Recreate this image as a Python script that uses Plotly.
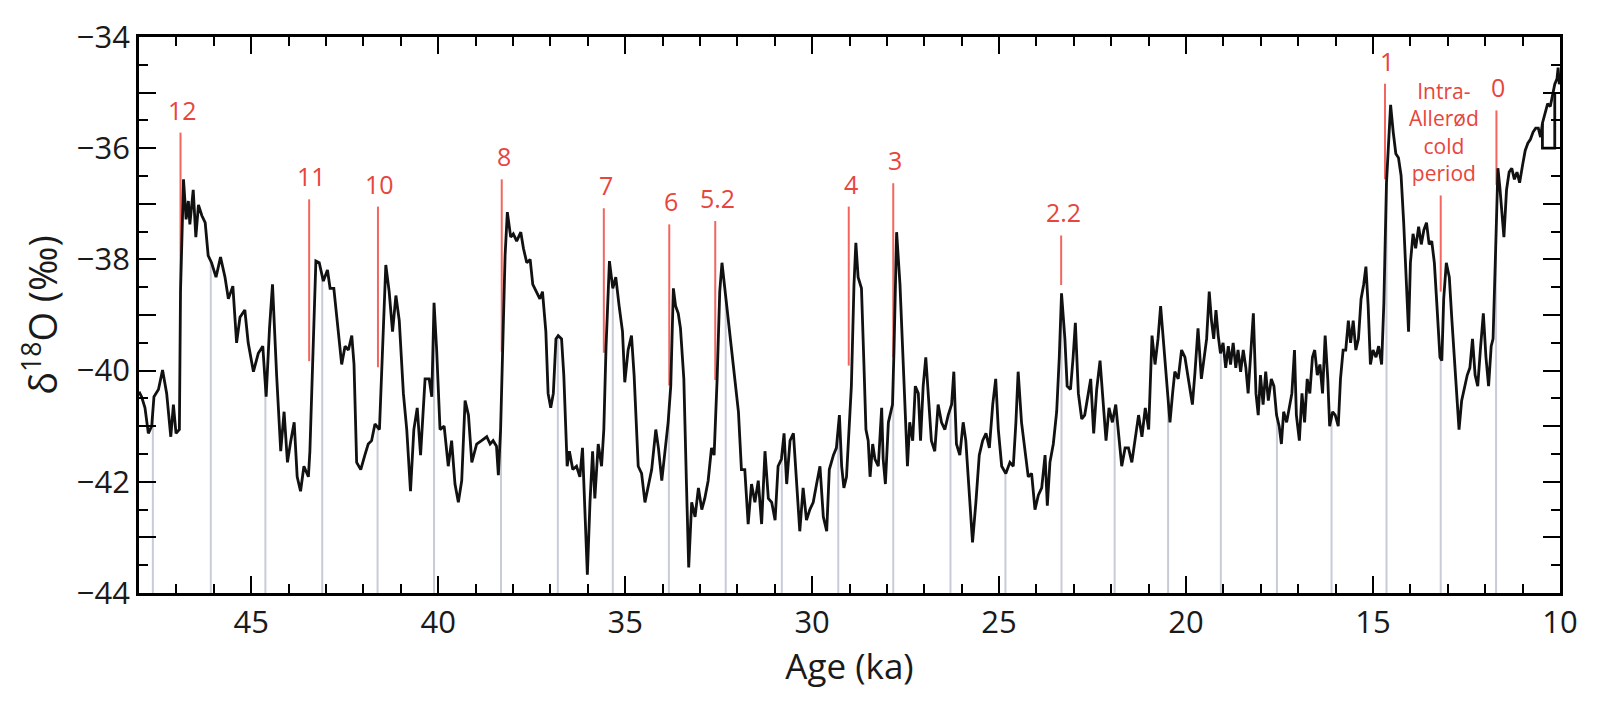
import numpy as np
import plotly.graph_objects as go

# delta 18O record, ages in ka b2k
age = [
    48.00, 47.93, 47.84, 47.75, 47.66, 47.60, 47.48, 47.37, 47.26, 47.15, 47.08, 47.01, 46.92, 46.89,
    46.81, 46.74, 46.68, 46.64, 46.55, 46.48, 46.41, 46.32, 46.23, 46.15, 46.06, 45.94, 45.82, 45.70,
    45.61, 45.49, 45.39, 45.30, 45.17, 45.08, 44.94, 44.81, 44.69, 44.60, 44.51, 44.43, 44.32, 44.21,
    44.12, 44.03, 43.94, 43.85, 43.77, 43.68, 43.59, 43.47, 43.43, 43.36, 43.27, 43.18, 43.07, 42.96,
    42.89, 42.79, 42.67, 42.58, 42.49, 42.40, 42.31, 42.25, 42.18, 42.07, 41.96, 41.87, 41.78, 41.69,
    41.57, 41.47, 41.40, 41.31, 41.22, 41.13, 41.04, 40.93, 40.84, 40.74, 40.65, 40.56, 40.47, 40.35,
    40.24, 40.17, 40.11, 40.04, 39.95, 39.84, 39.73, 39.64, 39.55, 39.46, 39.37, 39.28, 39.19, 39.10,
    38.97, 38.84, 38.70, 38.61, 38.53, 38.44, 38.39, 38.33, 38.28, 38.21, 38.15, 38.06, 37.99, 37.90,
    37.79, 37.72, 37.63, 37.54, 37.47, 37.37, 37.28, 37.21, 37.12, 37.06, 36.99, 36.92, 36.85, 36.79,
    36.70, 36.64, 36.55, 36.49, 36.40, 36.30, 36.21, 36.14, 36.07, 36.01, 35.94, 35.87, 35.81, 35.72,
    35.63, 35.57, 35.51, 35.42, 35.33, 35.25, 35.16, 35.07, 35.01, 34.92, 34.83, 34.76, 34.65, 34.56,
    34.47, 34.38, 34.29, 34.18, 34.11, 34.02, 33.93, 33.85, 33.78, 33.71, 33.65, 33.58, 33.52, 33.43,
    33.36, 33.30, 33.22, 33.13, 33.04, 32.95, 32.87, 32.78, 32.69, 32.62, 32.54, 32.47, 32.41, 32.29,
    32.18, 32.06, 31.97, 31.89, 31.80, 31.71, 31.62, 31.53, 31.44, 31.35, 31.26, 31.17, 31.08, 30.99,
    30.91, 30.82, 30.75, 30.68, 30.59, 30.50, 30.41, 30.33, 30.24, 30.15, 30.06, 29.97, 29.88, 29.79,
    29.70, 29.61, 29.54, 29.43, 29.35, 29.27, 29.21, 29.15, 29.08, 29.01, 28.95, 28.88, 28.83, 28.77,
    28.68, 28.62, 28.56, 28.50, 28.45, 28.38, 28.32, 28.23, 28.14, 28.10, 28.04, 27.96, 27.90, 27.85,
    27.81, 27.74, 27.65, 27.56, 27.49, 27.45, 27.39, 27.31, 27.24, 27.16, 27.10, 27.03, 26.96, 26.88,
    26.81, 26.72, 26.63, 26.54, 26.45, 26.36, 26.27, 26.21, 26.14, 26.05, 25.96, 25.89, 25.80, 25.71,
    25.62, 25.53, 25.44, 25.35, 25.26, 25.17, 25.09, 25.02, 24.93, 24.82, 24.71, 24.62, 24.55, 24.49,
    24.40, 24.31, 24.22, 24.13, 24.04, 23.95, 23.86, 23.77, 23.71, 23.64, 23.55, 23.46, 23.39, 23.33,
    23.24, 23.18, 23.09, 23.02, 22.96, 22.88, 22.79, 22.71, 22.62, 22.55, 22.47, 22.39, 22.30, 22.23,
    22.14, 22.06, 21.97, 21.88, 21.81, 21.72, 21.63, 21.54, 21.45, 21.36, 21.27, 21.18, 21.09, 21.00,
    20.91, 20.83, 20.75, 20.68, 20.61, 20.52, 20.43, 20.36, 20.30, 20.21, 20.12, 20.03, 19.94, 19.83,
    19.76, 19.68, 19.59, 19.52, 19.45, 19.38, 19.32, 19.26, 19.20, 19.14, 19.08, 19.01, 18.94, 18.87,
    18.81, 18.74, 18.67, 18.61, 18.54, 18.47, 18.40, 18.34, 18.28, 18.20, 18.13, 18.07, 18.01, 17.94,
    17.87, 17.80, 17.72, 17.65, 17.58, 17.51, 17.45, 17.39, 17.31, 17.24, 17.17, 17.10, 17.05, 16.97,
    16.90, 16.83, 16.76, 16.69, 16.62, 16.56, 16.49, 16.42, 16.35, 16.28, 16.21, 16.16, 16.08, 16.01,
    15.93, 15.87, 15.80, 15.73, 15.66, 15.60, 15.53, 15.46, 15.39, 15.32, 15.25, 15.19, 15.13, 15.07,
    15.00, 14.92, 14.85, 14.77, 14.71, 14.64, 14.58, 14.53, 14.46, 14.39, 14.32, 14.25, 14.18, 14.11,
    14.05, 14.00, 13.93, 13.86, 13.78, 13.71, 13.64, 13.57, 13.50, 13.43, 13.36, 13.29, 13.21, 13.16,
    13.11, 13.04, 12.96, 12.89, 12.82, 12.75, 12.70, 12.63, 12.55, 12.48, 12.41, 12.34, 12.27, 12.20,
    12.13, 12.05, 11.98, 11.91, 11.84, 11.79, 11.72, 11.66, 11.61, 11.56, 11.50, 11.43, 11.36, 11.29,
    11.22, 11.15, 11.08, 11.00, 10.93, 10.86, 10.79, 10.72, 10.65, 10.58, 10.52, 10.47, 10.40, 10.33,
    10.26, 10.20, 10.14, 10.08, 10.05, 10.02, 10.00,
]
d18o = [
    -40.38, -40.47, -40.67, -41.13, -41.00, -40.47, -40.34, -39.99, -40.41, -41.19, -40.61, -41.13, -41.06, -38.58,
    -36.56, -37.28, -36.95, -37.37, -36.75, -37.60, -37.02, -37.21, -37.34, -37.93, -38.06, -38.32, -37.96, -38.32,
    -38.71, -38.48, -39.50, -39.04, -38.91, -39.50, -40.02, -39.69, -39.56, -40.47, -39.24, -38.45, -40.08, -41.45,
    -40.74, -41.65, -41.26, -40.93, -41.91, -42.17, -41.72, -41.91, -41.45, -39.76, -38.03, -38.06, -38.39, -38.19,
    -38.52, -38.52, -39.24, -39.89, -39.56, -39.63, -39.37, -39.89, -41.65, -41.78, -41.52, -41.32, -41.26, -40.96,
    -41.06, -39.50, -38.10, -38.58, -39.30, -38.65, -39.10, -40.41, -41.06, -42.17, -41.06, -40.67, -41.52, -40.15,
    -40.15, -40.47, -38.78, -39.63, -41.06, -41.00, -41.72, -41.26, -42.04, -42.37, -41.98, -40.54, -40.80, -41.65,
    -41.32, -41.26, -41.19, -41.32, -41.26, -41.36, -41.88, -41.06, -39.66, -37.93, -37.15, -37.60, -37.54, -37.67,
    -37.51, -37.80, -38.06, -38.00, -38.45, -38.58, -38.71, -38.58, -39.30, -40.41, -40.67, -40.41, -39.43, -39.37,
    -39.43, -40.08, -41.72, -41.45, -41.78, -41.72, -41.91, -41.39, -42.82, -43.67, -42.37, -41.45, -42.30, -41.32,
    -41.72, -41.06, -39.56, -38.03, -38.52, -38.32, -38.84, -39.30, -40.21, -39.63, -39.37, -40.08, -41.72, -41.85,
    -42.37, -42.04, -41.78, -41.06, -41.39, -41.98, -41.45, -40.93, -40.28, -38.52, -38.84, -38.97, -39.24, -40.15,
    -42.04, -43.54, -42.37, -42.63, -42.11, -42.50, -42.30, -41.98, -41.39, -41.52, -40.15, -38.58, -38.06, -38.78,
    -39.43, -40.15, -40.74, -41.78, -41.78, -42.76, -42.04, -42.37, -41.98, -42.76, -41.45, -42.30, -42.37, -42.69,
    -41.72, -41.59, -41.13, -42.04, -41.26, -41.13, -42.04, -42.89, -42.11, -42.69, -42.50, -42.37, -42.04, -41.72,
    -42.63, -42.89, -41.78, -41.52, -41.39, -40.80, -41.72, -42.11, -41.91, -40.93, -40.28, -38.45, -37.70, -38.32,
    -38.52, -39.76, -41.06, -41.26, -41.91, -41.32, -41.59, -41.72, -40.67, -41.59, -42.04, -40.93, -40.74, -40.61,
    -39.63, -37.51, -38.45, -40.08, -41.26, -41.72, -40.93, -41.26, -40.28, -40.41, -41.26, -40.28, -39.76, -40.54,
    -41.26, -41.45, -40.61, -40.93, -41.06, -40.80, -40.61, -40.02, -41.32, -41.52, -40.93, -41.26, -42.11, -43.09,
    -42.37, -41.52, -41.26, -41.13, -41.39, -40.61, -40.15, -41.06, -41.72, -41.85, -41.65, -41.72, -40.93, -40.02,
    -40.93, -41.39, -41.91, -41.85, -42.50, -42.24, -42.11, -41.52, -42.43, -41.65, -41.32, -40.74, -39.76, -38.61,
    -39.43, -40.28, -40.34, -39.76, -39.14, -40.41, -40.87, -40.80, -40.41, -40.15, -41.13, -40.34, -39.82, -40.41,
    -41.26, -40.67, -40.93, -40.61, -41.13, -41.72, -41.39, -41.39, -41.65, -41.19, -40.80, -41.19, -40.67, -41.06,
    -39.37, -39.89, -39.43, -38.84, -39.43, -40.34, -40.93, -40.41, -40.02, -40.15, -39.63, -39.76, -40.15, -40.61,
    -40.02, -39.24, -40.15, -39.76, -39.43, -38.58, -39.10, -39.43, -38.91, -39.37, -39.69, -39.50, -39.95, -39.56,
    -39.89, -39.50, -39.95, -39.63, -40.02, -39.63, -39.95, -40.41, -39.76, -38.97, -40.41, -40.80, -40.08, -40.61,
    -40.02, -40.54, -40.15, -40.28, -40.80, -41.00, -41.32, -40.74, -40.93, -40.67, -40.41, -39.63, -40.80, -41.26,
    -40.41, -40.93, -40.15, -40.41, -39.76, -39.63, -40.08, -39.89, -40.41, -39.37, -40.15, -41.00, -40.74, -40.80,
    -41.00, -40.15, -39.63, -39.63, -39.10, -39.50, -39.10, -39.63, -39.43, -38.71, -38.45, -38.13, -38.84, -39.89,
    -39.63, -39.76, -39.56, -39.89, -38.78, -36.62, -35.71, -35.22, -35.71, -36.10, -36.17, -36.49, -37.34, -38.32,
    -39.30, -38.06, -37.54, -37.80, -37.41, -37.73, -37.47, -37.34, -37.73, -37.67, -38.06, -38.84, -39.76, -39.82,
    -38.71, -38.06, -38.32, -39.10, -39.76, -40.41, -41.06, -40.54, -40.28, -40.08, -39.95, -39.43, -40.08, -40.28,
    -39.63, -38.97, -39.76, -40.28, -39.56, -39.43, -37.80, -36.36, -36.69, -37.08, -37.60, -36.75, -36.43, -36.36,
    -36.56, -36.43, -36.62, -36.30, -36.04, -35.91, -35.84, -35.71, -35.64, -35.64, -35.80, -35.55, -35.35, -35.20,
    -35.25, -35.05, -34.85, -34.75, -34.55, -34.85, -34.75,
]

# short flat piece at the young end of the record
tail_age = [10.47, 10.47, 10.14, 10.14]
tail_d18o = [-35.55, -36.0, -36.0, -35.0]

# ~1470-yr spaced markers (grey)
cycle_age = [47.63, 46.08, 44.62, 43.10, 41.62, 40.11, 38.32, 36.80, 35.33, 33.83, 32.31, 30.81, 29.30,
             27.83, 26.30, 24.83, 23.33, 21.91, 20.48, 19.07, 17.57, 16.11, 14.64, 13.19, 11.71]

# Greenland interstadial onsets (red)
event_label = ["12", "11", "10", "8", "7", "6", "5.2", "4", "3", "2.2", "1",
               "Intra-<br>Allerød<br>cold<br>period", "0"]
event_age = [46.89, 43.45, 41.61, 38.30, 35.57, 33.82, 32.59, 29.02, 27.83, 23.34, 14.68, 13.19, 11.70]
event_low = [-38.58, -39.83, -39.94, -39.66, -39.68, -40.27, -40.17, -39.91, -39.76, -38.46, -36.56, -38.58, -36.66]
event_high = [-35.72, -36.92, -37.05, -36.56, -37.08, -37.37, -37.31, -37.05, -36.63, -37.57, -34.84, -36.85, -35.32]

ages_up = np.array(age)[::-1]
vals_up = np.array(d18o)[::-1]

# grey stems from the bottom axis up to the curve
stem_x, stem_y = [], []
for a in cycle_age:
    stem_x += [a, a, None]
    stem_y += [-44, float(np.interp(a, ages_up, vals_up)), None]

red_x, red_y = [], []
for a, lo, hi in zip(event_age, event_low, event_high):
    red_x += [a, a, None]
    red_y += [lo, hi, None]

fig = go.Figure()
fig.add_trace(go.Scatter(x=stem_x, y=stem_y, mode="lines",
                         line=dict(color="#c8cbd8", width=2), hoverinfo="skip"))
fig.add_trace(go.Scatter(x=red_x, y=red_y, mode="lines",
                         line=dict(color="#f2665e", width=2), hoverinfo="skip"))
fig.add_trace(go.Scatter(x=age, y=d18o, mode="lines",
                         line=dict(color="#111111", width=2.8)))
fig.add_trace(go.Scatter(x=tail_age, y=tail_d18o, mode="lines",
                         line=dict(color="#111111", width=2.8)))

for lab, a, hi in zip(event_label, event_age, event_high):
    small = "<br>" in lab
    fig.add_annotation(x=a - (0.08 if small else 0.05), y=hi, text=lab, showarrow=False,
                       xanchor="center", yanchor="bottom", yshift=4 if not small else 6,
                       font=dict(color="#e8453c", size=21 if small else 25,
                                 family="Open Sans"))

font = "Open Sans"
ytick = list(range(-44, -33))
fig.update_layout(
    width=1600, height=713,
    margin=dict(l=139, r=40, t=37, b=120),
    plot_bgcolor="white", paper_bgcolor="white",
    showlegend=False,
    font=dict(family=font, color="#1a1a1a"),
    xaxis=dict(
        range=[48, 10], showgrid=False, zeroline=False,
        tickmode="array", tickvals=[45, 40, 35, 30, 25, 20, 15, 10],
        ticks="inside", ticklen=17, tickwidth=2, tickcolor="black",
        minor=dict(tick0=0, dtick=1, ticks="inside", ticklen=9, tickwidth=2, tickcolor="black"),
        showline=True, linewidth=2.5, linecolor="black", mirror="ticks",
        tickfont=dict(size=31, family=font),
        title=dict(text="Age (ka)", font=dict(size=35, family=font), standoff=12),
    ),
    yaxis=dict(
        range=[-44, -34], showgrid=False, zeroline=False,
        tickmode="array", tickvals=ytick,
        ticktext=["\u2212%d" % -v if v % 2 == 0 else "" for v in ytick],
        ticks="inside", ticklen=17, tickwidth=2, tickcolor="black",
        minor=dict(tick0=0, dtick=0.5, ticks="inside", ticklen=9, tickwidth=2, tickcolor="black"),
        showline=True, linewidth=2.5, linecolor="black", mirror="ticks",
        tickfont=dict(size=31, family=font),
        title=dict(text="δ<sup>18</sup>O (‰)", font=dict(size=38, family=font), standoff=8),
    ),
)

fig.write_html("out.html", config={"displayModeBar": False},
               post_script="document.body.style.margin='0';")
